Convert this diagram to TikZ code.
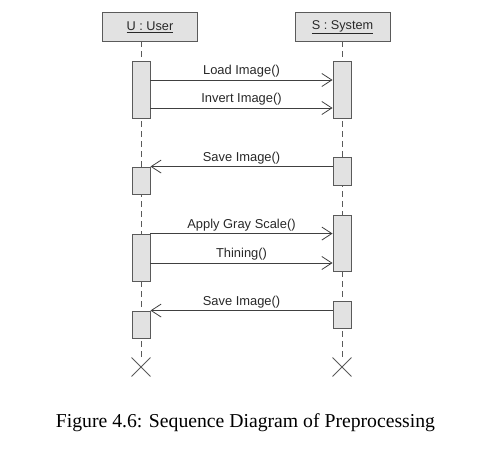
\documentclass[tikz,border=0pt]{standalone}
\usepackage{fontspec}
\setmainfont{Liberation Serif}
\setsansfont{Liberation Sans}
\usetikzlibrary{arrows.meta,shapes.misc}
\definecolor{boxfill}{HTML}{E2E2E2}
\definecolor{boxline}{HTML}{5A5A5A}
\definecolor{msgline}{HTML}{404040}
\definecolor{txt}{HTML}{282828}
\tikzset{
  head/.style={draw=boxline, fill=boxfill, line width=0.9pt, minimum width=95pt, minimum height=29pt, inner sep=0pt, font=\sffamily\fontsize{12.7}{14}\selectfont, text=txt},
  act/.style={draw=boxline, fill=boxfill, line width=0.9pt, minimum width=18pt, inner sep=0pt},
  life/.style={draw=boxline, line width=0.9pt, dash pattern=on 6pt off 4pt},
  msg/.style={draw=msgline, line width=0.8pt, -{Straight Barb[length=10pt,width=13pt,line width=0.8pt]}},
  lbl/.style={font=\sffamily\fontsize{12.9}{14}\selectfont, text=txt, above=1pt, inner sep=1pt},
  killx/.style={cross out, draw=boxline, line width=0.9pt, minimum size=18pt, inner sep=0pt},
}
\begin{document}
\begin{tikzpicture}[x=1pt,y=-1pt]
\useasboundingbox (0,0) rectangle (487,455);
% headers
\node[head] (uh) at (150,27) {\underline{U : User}};
\node[head] (sh) at (342.5,27) {\underline{S : System}};
% destruction marks
\node[killx] (ux) at (141,367) {};
\node[killx] (sx) at (342,367) {};
% lifelines
\coordinate (ut) at (141,41);
\coordinate (st) at (342,41);
\draw[life] (ut) -- (ux.north);
\draw[life] (st) -- (sx.north);
% activations
\node[act, minimum height=57pt] (ua1) at (141,89.5) {};
\node[act, minimum height=57pt] (sa1) at (342,89.5) {};
\node[act, minimum height=28pt] (sa2) at (342,171) {};
\node[act, minimum height=27pt] (ua2) at (141,180.5) {};
\node[act, minimum height=56pt] (sa3) at (342,243) {};
\node[act, minimum height=47pt] (ua3) at (141,257.5) {};
\node[act, minimum height=27pt] (sa4) at (342,314.5) {};
\node[act, minimum height=27pt] (ua4) at (141,324.5) {};
% messages
\draw[msg] (ua1.east |- 0,80) -- node[lbl] {Load Image()} (sa1.west |- 0,80);
\draw[msg] (ua1.east |- 0,108) -- node[lbl] {Invert Image()} (sa1.west |- 0,108);
\draw[msg] (sa2.west |- ua2.north) -- node[lbl] {Save Image()} (ua2.north east);
\draw[msg] (ua3.north east) -- node[lbl] {Apply Gray Scale()} (sa3.west |- ua3.north);
\draw[msg] (ua3.east |- 0,263) -- node[lbl] {Thining()} (sa3.west |- 0,263);
\draw[msg] (sa4.west |- ua4.north) -- node[lbl] {Save Image()} (ua4.north east);
% caption
\node[font=\fontsize{19.7}{22}\selectfont] (cap) at (245.5,423) {Figure 4.6: Sequence Diagram of Preprocessing};
\end{tikzpicture}
\end{document}
